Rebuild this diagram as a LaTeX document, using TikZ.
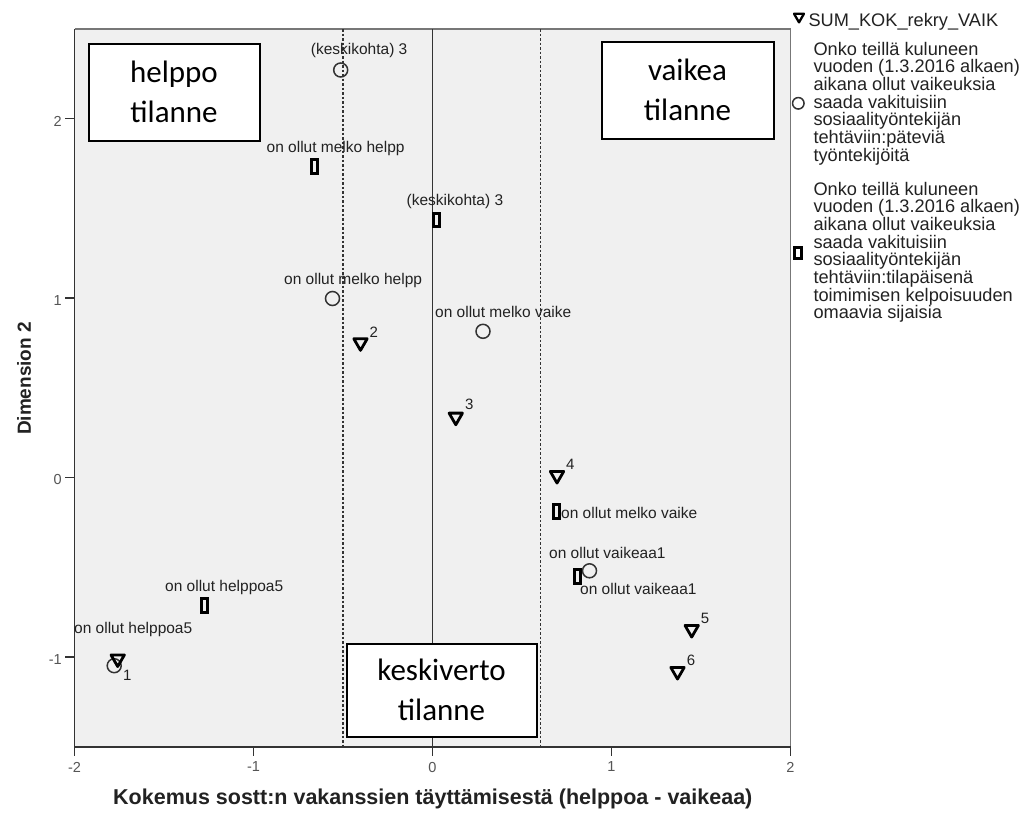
\documentclass[tikz,border=0pt]{standalone}
\usepackage{fontspec}
\setmainfont{Liberation Sans}
\newfontfamily\boxfont{Carlito}
\usetikzlibrary{shapes.geometric}
\definecolor{plotbg}{HTML}{F0F0F0}
\definecolor{txt}{HTML}{222222}
\definecolor{ticktxt}{HTML}{555555}
\definecolor{framec}{HTML}{777777}
\definecolor{axisc}{HTML}{333333}
\definecolor{mk}{HTML}{333333}
\begin{document}
\begin{tikzpicture}[x=1pt,y=-1pt,
 lbl/.style={font=\fontsize{15.5}{18}\selectfont, text=txt, inner sep=0pt, anchor=base west},
 num/.style={font=\fontsize{15}{18}\selectfont, text=txt, inner sep=0pt, anchor=base west},
 leg/.style={font=\fontsize{18.2}{20}\selectfont, text=txt, inner sep=0pt, anchor=base west},
 ticklbl/.style={font=\fontsize{14.5}{16}\selectfont, text=ticktxt, inner sep=0pt},
 ttl/.style={font=\fontsize{21.5}{24}\selectfont\bfseries, text=txt, inner sep=0pt},
 circm/.style={circle, draw=mk, line width=1.5pt, minimum size=14pt, inner sep=0pt},
 rectm/.style={rectangle, draw=black, line width=3pt, minimum width=6pt, minimum height=13.5pt, inner sep=0pt},
 trim/.style={regular polygon, regular polygon sides=3, shape border rotate=180, draw=black, line width=2.8pt, line join=round, minimum size=15.5pt, inner sep=0pt},
 qbox/.style={draw=black, line width=2pt, fill=white, align=center, font=\boxfont\fontsize{31}{40}\selectfont, inner sep=0pt},
 axline/.style={draw=axisc, line width=1.5pt},
 refdash/.style={draw=axisc, line width=1.6pt, dash pattern=on 2.5pt off 2pt},
]
\useasboundingbox (0,0) rectangle (1031,817);
\fill[white] (0,0) rectangle (1031,817);
% plot area
\fill[plotbg] (74.5,29) rectangle (790.5,747);
\draw[framec, line width=1.8pt] (74.5,29) -- (790.5,29) -- (790.5,747);
% reference lines
\draw[axisc, line width=1.4pt] (432.5,29) -- (432.5,747);
\draw[refdash] (343,29) -- (343,747);
\draw[refdash] (540.5,29) -- (540.5,747);
% axes
\draw[axline] (74.5,29) -- (74.5,747) -- (790.5,747);
\foreach \yy/\lab [count=\i] in {118.5/2, 298/1, 477.5/0, 657/-1} {
  \draw[axline] (65,\yy) -- (74.5,\yy);
  \node[ticklbl, anchor=east] (yt\i) at (62,\yy+2.5) {\lab};
}
\foreach \xx/\lab [count=\i] in {74.5/-2, 253.5/-1, 432.5/0, 611.5/1, 790.5/2} {
  \draw[axline] (\xx,747) -- (\xx,755.5);
  \node[ticklbl] (xt\i) at (\xx,767) {\lab};
}
% circles
\node[circm] (c-kesk) at (340.7,70) {};
\node[circm] (c-mhelpp) at (332.5,298.5) {};
\node[circm] (c-mvaike) at (483,331.3) {};
\node[circm] (c-vaik1) at (589.5,570.8) {};
\node[circm] (c-1) at (114.2,665.7) {};
% rectangles
\node[rectm] (r-mhelpp) at (314.7,166.7) {};
\node[rectm] (r-kesk) at (436.7,220) {};
\node[rectm] (r-mvaike) at (556.3,511.7) {};
\node[rectm] (r-vaik1) at (577,576.7) {};
\node[rectm] (r-helppoa5) at (204.7,605.3) {};
% triangles
\node[trim] (t1) at (117.7,658.8) {};
\node[trim] (t2) at (360.5,342.6) {};
\node[trim] (t3) at (455.8,417) {};
\node[trim] (t4) at (557,475.3) {};
\node[trim] (t5) at (691.7,629.3) {};
\node[trim] (t6) at (677.5,671.3) {};
% point labels
\node[lbl] (lc-kesk) at (310.7,54.5) {(keskikohta) 3};
\node[lbl] (lr-mhelpp) at (266.5,152) {on ollut melko helpp};
\node[lbl] (lr-kesk) at (406.5,205) {(keskikohta) 3};
\node[lbl] (lc-mhelpp) at (284,284.5) {on ollut melko helpp};
\node[lbl] (lc-mvaike) at (435,317.5) {on ollut melko vaike};
\node[lbl] (lr-mvaike) at (561,518) {on ollut melko vaike};
\node[lbl] (lc-vaik1) at (549,558) {on ollut vaikeaa1};
\node[lbl] (lr-vaik1) at (580,594.5) {on ollut vaikeaa1};
\node[lbl] (lr-helppoa5) at (165,591) {on ollut helppoa5};
\node[lbl] (lc-helppoa5) at (74,633.8) {on ollut helppoa5};
\node[num] (n2) at (369.3,337.3) {2};
\node[num] (n3) at (465,409.3) {3};
\node[num] (n4) at (566,469) {4};
\node[num] (n5) at (700.7,623.3) {5};
\node[num] (n6) at (686.7,665) {6};
\node[num] (n1) at (123,680) {1};
% situation boxes
\node[qbox, minimum width=171pt, minimum height=97pt] (helppo) at (174,92) {helppo\\tilanne};
\node[qbox, minimum width=172pt, minimum height=97pt] (vaikea) at (687.5,90) {vaikea\\tilanne};
\node[qbox, minimum width=190pt, minimum height=93pt] (keskiv) at (441.5,690) {keskiverto\\tilanne};
% axis titles
\node[ttl, anchor=base west] (xtitle) at (113,804) {Kokemus sostt:n vakanssien täyttämisestä (helppoa - vaikeaa)};
\node[ttl, font=\fontsize{19}{22}\selectfont\bfseries, rotate=90] (ytitle) at (24,378.5) {Dimension 2};
% legend
\node[trim, minimum size=11.5pt, line width=2.3pt] (legt) at (799,16.6) {};
\node[leg] (legt-txt) at (808.3,26.7) {SUM\_KOK\_rekry\_VAIK};
\foreach \t [count=\i from 0] in {{Onko teillä kuluneen},{vuoden (1.3.2016 alkaen)},{aikana ollut vaikeuksia},{saada vakituisiin},{sosiaalityöntekijän},{tehtäviin:päteviä},{työntekijöitä}} {
  \node[leg] (lega\i) at (813.3,55+17.7*\i) {\t};
}
\node[circm, minimum size=11.5pt] (legc) at (798.3,103.3) {};
\foreach \t [count=\i from 0] in {{Onko teillä kuluneen},{vuoden (1.3.2016 alkaen)},{aikana ollut vaikeuksia},{saada vakituisiin},{sosiaalityöntekijän},{tehtäviin:tilapäisenä},{toimimisen kelpoisuuden},{omaavia sijaisia}} {
  \node[leg] (legb\i) at (813.3,195+17.7*\i) {\t};
}
\node[rectm, minimum width=7pt, minimum height=10.5pt] (legr) at (798,253) {};
\end{tikzpicture}
\end{document}
